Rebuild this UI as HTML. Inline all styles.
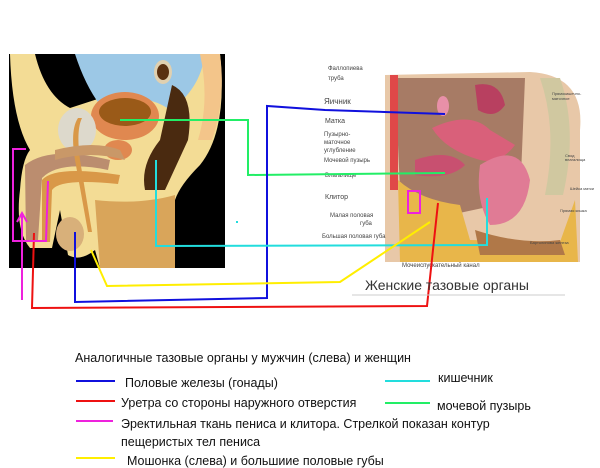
<!DOCTYPE html>
<html><head><meta charset="utf-8"><style>
html,body{margin:0;padding:0;background:#fff;width:600px;height:468px;overflow:hidden}
svg{display:block;font-family:"Liberation Sans",sans-serif}
</style></head><body>
<svg width="600" height="468" viewBox="0 0 600 468">
<!-- left illustration -->
<rect x="9" y="54" width="216" height="214" fill="#000"/>
<path d="M10,54 L35,54 Q45,95 70,108 L110,95 Q160,105 175,95 L200,54 L220,54 Q228,130 200,165 Q180,185 175,200 L175,268 L100,268 L95,250 Q80,262 68,255 L60,210 L52,248 L30,248 Q15,230 20,190 Q22,160 30,150 Q12,120 10,54 Z" fill="#f3dc95"/>
<path d="M75,54 L205,54 Q200,90 170,110 Q150,95 120,100 L100,105 Q85,85 75,54Z" fill="#9cc8e6"/>
<path d="M95,200 Q140,205 175,195 L175,268 L100,268 Z" fill="#d9a55a"/>
<path d="M200,54 L220,54 Q226,100 212,140 L198,140 Q210,100 200,54 Z" fill="#f3c58a"/>
<path d="M172,85 Q195,95 188,140 L165,190 L145,190 Q140,165 160,140 Z" fill="#4a2a10"/>
<ellipse cx="163" cy="72" rx="9" ry="12" fill="#e0d0b0"/>
<ellipse cx="163" cy="72" rx="6" ry="8" fill="#5a3010"/>
<ellipse cx="125" cy="116" rx="34" ry="24" fill="#e08850"/>
<ellipse cx="125" cy="112" rx="26" ry="14" fill="#9a5a18"/>
<ellipse cx="118" cy="150" rx="14" ry="10" fill="#e08850"/>
<ellipse cx="77" cy="130" rx="19" ry="22" fill="#ddd9cc"/>
<path d="M25,165 Q50,145 110,160 L108,170 Q60,160 42,178 L38,240 L26,240 Z" fill="#bb8d6f"/>
<path d="M42,180 Q55,165 120,175 L118,184 Q60,178 52,190 L50,242 L42,242 Z" fill="#d99848"/>
<path d="M78,118 Q70,130 75,160 L88,232 L92,232 L80,160 Q76,130 82,118 Z" fill="#d99848"/>
<ellipse cx="70" cy="234" rx="14" ry="17" fill="#d8b07a"/>
<path d="M55,150 Q95,140 120,150 L125,160 Q90,150 55,160 Z" fill="#c99868"/>
<!-- right illustration -->
<path d="M385,75 L530,72 Q585,75 580,130 L580,262 L385,262 Z" fill="#e8c8a8"/>
<path d="M395,78 L525,78 L520,200 L450,215 L400,190 Z" fill="#8b5a48" opacity="0.7"/>
<path d="M390,75 L398,75 L398,190 L390,190 Z" fill="#e04848"/>
<path d="M398,180 Q420,200 460,205 L470,240 L560,242 L575,200 L578,262 L400,262 Z" fill="#e8b64a"/>
<path d="M475,230 Q520,245 560,240 L565,255 L480,255 Z" fill="#b07848"/>
<path d="M540,78 L560,78 Q578,130 563,195 L545,195 Q558,130 540,78 Z" fill="#d0c8a0"/>
<path d="M475,85 Q500,80 505,105 Q495,120 478,110 Z" fill="#b84060"/>
<path d="M432,128 Q470,110 490,130 L515,145 Q500,165 480,160 Q445,150 432,128 Z" fill="#d9607a"/>
<path d="M415,160 Q450,148 465,165 Q450,180 415,175 Z" fill="#c85070"/>
<path d="M480,165 Q520,140 530,180 Q525,225 490,225 Q475,200 480,165 Z" fill="#e07b95"/>
<ellipse cx="443" cy="106" rx="6" ry="10" fill="#e890a8"/>
<g font-size="6" fill="#444">
<text x="328" y="70">Фаллопиева</text><text x="328" y="80">труба</text>
<text x="324" y="104" font-size="8">Яичник</text>
<text x="325" y="123" font-size="7">Матка</text>
<text x="324" y="136">Пузырно-</text><text x="324" y="144">маточное</text><text x="324" y="152">углубление</text>
<text x="324" y="162">Мочевой пузырь</text>
<text x="325" y="177">Влагалище</text>
<text x="325" y="199" font-size="7">Клитор</text>
<text x="330" y="217">Малая половая</text><text x="360" y="225">губа</text>
<text x="322" y="238">Большая половая губа</text>
<text x="402" y="267">Мочеиспускательный канал</text>
<text x="552" y="95" font-size="4">Прямокишечно-</text><text x="552" y="100" font-size="4">маточное</text>
<text x="565" y="157" font-size="4">Свод</text><text x="565" y="161" font-size="4">влагалища</text>
<text x="570" y="190" font-size="4">Шейка матки</text>
<text x="560" y="212" font-size="4">Прямая кишка</text>
<text x="530" y="244" font-size="4">Бартолинова железа</text>
</g>
<!-- connector lines -->
<g fill="none" stroke-width="2">
<polyline points="120,120 248,120 248,175 445,173" stroke="#22ee66"/>
<polyline points="75,232 75,302 267,298 267,106 325,110 445,114" stroke="#1010dd"/>
<polyline points="156,160 156,246 487,245 487,198" stroke="#22dddd"/>
<polyline points="91,250 107,286 340,282 430,222" stroke="#ffee00"/>
<polyline points="34,233 32,308 427,306 438,203" stroke="#ee1111"/>
<polyline points="26,149 13,149 13,241 46,241 48,181" stroke="#ee22dd"/>
<polyline points="22,300 22,213" stroke="#ee22dd"/>
<polyline points="17,222 22,213 27,222" stroke="#ee22dd"/>
<rect x="408" y="191" width="12" height="22" stroke="#ee22dd"/>
</g>
<rect x="236" y="221" width="2" height="2" fill="#22dddd"/>
<text x="365" y="290" font-size="14" fill="#333">Женские тазовые органы</text>
<line x1="352" y1="295" x2="565" y2="295" stroke="#ccc"/>
<!-- legend -->
<g font-size="12.5" fill="#111">
<text x="75" y="362">Аналогичные тазовые органы у мужчин (слева) и женщин</text>
<text x="125" y="387">Половые железы (гонады)</text>
<text x="121" y="407">Уретра со стороны наружного отверстия</text>
<text x="121" y="428">Эректильная ткань пениса и клитора. Стрелкой показан контур</text>
<text x="121" y="446">пещеристых тел пениса</text>
<text x="127" y="465">Мошонка (слева) и большиие половые губы</text>
<text x="438" y="382">кишечник</text>
<text x="437" y="410">мочевой пузырь</text>
</g>
<g stroke-width="2">
<line x1="76" y1="381" x2="115" y2="381" stroke="#1010dd"/>
<line x1="76" y1="401" x2="115" y2="401" stroke="#ee1111"/>
<line x1="76" y1="421" x2="113" y2="421" stroke="#ee22dd"/>
<line x1="76" y1="458" x2="115" y2="458" stroke="#ffee00"/>
<line x1="385" y1="381" x2="430" y2="381" stroke="#22dddd"/>
<line x1="385" y1="403" x2="430" y2="403" stroke="#22ee66"/>
</g>
</svg>
</body></html>
